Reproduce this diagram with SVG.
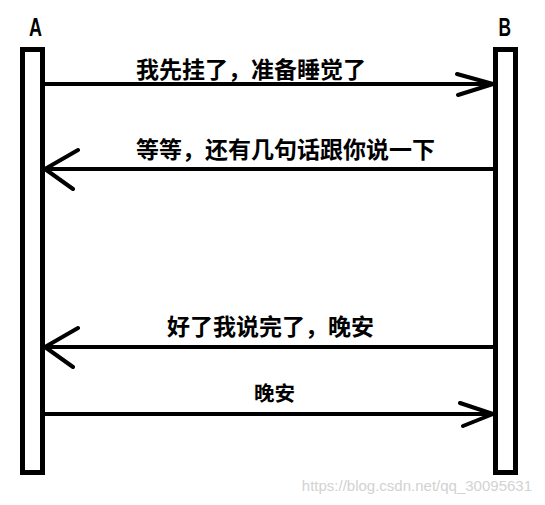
<svg xmlns="http://www.w3.org/2000/svg" width="545" height="505" viewBox="0 0 545 505">
<style>
.bar{fill:#fff;stroke:#000;stroke-width:5}
.name{font-family:"Liberation Sans",Arial,sans-serif;font-weight:bold;font-size:25px;fill:#000}
.msg{stroke:#000;stroke-width:4;fill:none;stroke-linecap:round;stroke-linejoin:round}
.lbl{font-family:"Noto Sans CJK SC","Liberation Sans",sans-serif;font-weight:bold;font-size:23px;fill:#000}
.lbl2{font-family:"Noto Sans CJK SC","Liberation Sans",sans-serif;font-weight:bold;font-size:20.5px;fill:#000}
.wm{font-family:"Liberation Sans",Arial,sans-serif;font-size:15px;fill:#d2d2d2}
</style>
<rect width="545" height="505" fill="#fff"/>
<g id="nodeA">
<rect class="bar" x="22.5" y="49.5" width="20" height="423"/>
<text class="name" x="29" y="36" textLength="13" lengthAdjust="spacingAndGlyphs">A</text>
</g>
<g id="nodeB">
<rect class="bar" x="495.5" y="49.5" width="20" height="423"/>
<text class="name" x="498.5" y="36" textLength="12.5" lengthAdjust="spacingAndGlyphs">B</text>
</g>
<g id="connectors">
<path class="msg" d="M45 84H493M457 74L493 84L458 95"/>
<path class="msg" d="M493 169H45M78 150L45 169L73 189"/>
<path class="msg" d="M493 347H45M78 328L45 347L73 367"/>
<path class="msg" d="M45 414H493M460 403L493 414L463 426"/>
<text class="lbl" x="136" y="78">我先挂了，准备睡觉了</text>
<text class="lbl" x="136" y="158">等等，还有几句话跟你说一下</text>
<text class="lbl" x="167" y="335">好了我说完了，晚安</text>
<text class="lbl2" x="254" y="401">晚安</text>
</g>
<text class="wm" x="532" y="491" text-anchor="end">https://blog.csdn.net/qq_30095631</text>
</svg>
